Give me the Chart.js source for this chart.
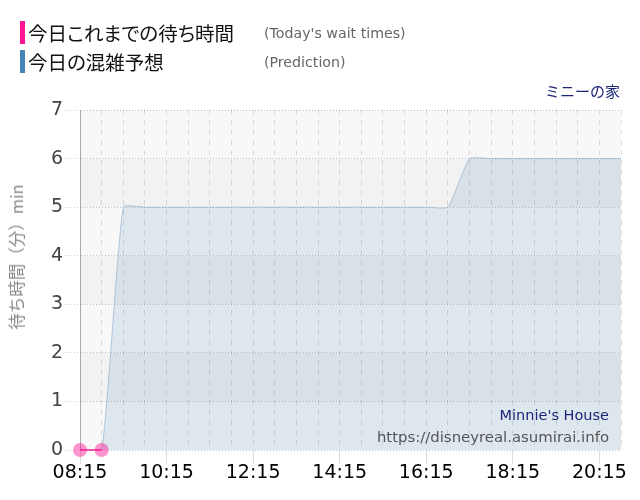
<!DOCTYPE html>
<html>
<head>
<meta charset="utf-8">
<script src="https://cdn.jsdelivr.net/npm/chart.js@4/dist/chart.umd.min.js"></script>
<style>
  html, body { margin: 0; padding: 0; background: #fff; }
  #wrap { position: relative; width: 640px; height: 500px; overflow: hidden; }
  #wrap canvas { position: absolute; left: 0; top: 0; }
  .lg { position: absolute; left: 20px; height: 24px; white-space: nowrap; }
  .lg .bar { position: absolute; left: 0; top: 0; width: 5px; height: 23px; }
  .lg .jp { position: absolute; left: 8px; top: 0; font: 19.5px/24px "Noto Sans CJK JP"; color: #111; font-feature-settings: "palt"; }
  .lg .en { position: absolute; left: 244px; top: 0; font: 14.2px/24px "DejaVu Sans"; color: #666; }
  #place { position: absolute; right: 20px; top: 80px; font: 15px "Noto Sans CJK JP"; color: #1d2577; }
  #ytitle { position: absolute; left: 16px; top: 257px; transform: translate(-50%, -50%) rotate(-90deg);
            font: 16.5px "Noto Sans CJK JP"; color: #888; white-space: nowrap; }
  #mark { position: absolute; right: 31px; top: 404px; text-align: right; font: 14.5px/22px "DejaVu Sans"; }
  #mark .n { color: #1d2577; }
  #mark .u { color: #555; font-size: 14.9px; }
</style>
</head>
<body>
<div id="wrap">
  <canvas id="waitChart" width="640" height="500"></canvas>
  <div class="lg" style="top:21px"><span class="bar" style="background:#ff1493"></span><span class="jp">今日これまでの待ち時間</span><span class="en">(Today's wait times)</span></div>
  <div class="lg" style="top:50px"><span class="bar" style="background:#4682b4"></span><span class="jp">今日の混雑予想</span><span class="en">(Prediction)</span></div>
  <div id="place">ミニーの家</div>
  <div id="ytitle">待ち時間（分）min</div>
  <div id="mark"><div class="n">Minnie's House</div><div class="u">https://disneyreal.asumirai.info</div></div>
</div>
<script>
"use strict";

var times = ['08:15', '08:45', '09:15', '09:45', '10:15', '10:45', '11:15', '11:45',
    '12:15', '12:45', '13:15', '13:45', '14:15', '14:45', '15:15', '15:45',
    '16:15', '16:45', '17:15', '17:45', '18:15', '18:45', '19:15', '19:45',
    '20:15', '20:45'];
var actualWait = [0, 0];
var predicted = [0, 0, 5, 5, 5, 5, 5, 5, 5, 5, 5, 5, 5, 5, 5, 5, 5, 5,
    6, 6, 6, 6, 6, 6, 6, 6];
var yTicks = [0, 1, 2, 3, 4, 5, 6, 7];

// alternating grey bands behind the plot
var bands = {
    id: 'bands',
    beforeDraw: function (chart) {
        var ctx = chart.ctx, area = chart.chartArea, y = chart.scales.y;
        ctx.save();
        for (var i = 0; i < yTicks.length - 1; i++) {
            var top = y.getPixelForValue(yTicks[i + 1]);
            var bottom = y.getPixelForValue(yTicks[i]);
            ctx.fillStyle = i % 2 === 0 ? '#f8f8f8' : '#f2f2f2';
            ctx.fillRect(area.left, top, area.right - area.left, bottom - top);
        }
        ctx.restore();
    }
};

var ctx = document.getElementById('waitChart').getContext('2d');
var waitChart = new Chart(ctx, {
    type: 'line',
    data: {
        labels: times,
        datasets: [{
            label: '今日これまでの待ち時間',
            data: actualWait,
            borderColor: 'rgba(230,40,150,0.75)',
            borderWidth: 2,
            backgroundColor: 'rgba(255,20,147,0.45)',
            pointBackgroundColor: 'rgba(255,20,147,0.45)',
            pointBorderWidth: 0,
            pointRadius: 7,
            fill: false,
            clip: false,
            order: 0
        }, {
            label: '今日の混雑予想',
            data: predicted,
            borderColor: 'rgba(70,130,180,0.35)',
            borderWidth: 1,
            backgroundColor: 'rgba(70,130,180,0.14)',
            pointRadius: 0,
            tension: 0.15,
            fill: 'origin',
            order: 1
        }]
    },
    plugins: [bands],
    options: {
        responsive: false,
        animation: false,
        layout: { padding: { top: 110, right: 19, left: 0, bottom: 0 } },
        plugins: {
            legend: { display: false },
            tooltip: { enabled: false }
        },
        scales: {
            x: {
                offset: false,
                afterFit: function (s) { s.height = 50; },
                border: { display: false, dash: [5, 5] },
                grid: {
                    color: 'rgba(0,0,0,0.12)',
                    tickLength: 14,
                    tickBorderDash: [],
                    tickColor: function (c) { return c.index % 4 === 0 ? '#dcdcdc' : 'rgba(0,0,0,0)'; }
                },
                ticks: {
                    autoSkip: false,
                    maxRotation: 0,
                    padding: -2,
                    color: '#000',
                    font: { family: 'DejaVu Sans', size: 19 },
                    callback: function (v, i) { return i % 4 === 0 ? times[i] : ''; }
                }
            },
            y: {
                min: 0,
                max: 7,
                afterFit: function (s) { s.width = 80; },
                border: { display: true, color: '#aaa', width: 1, dash: [1, 2] },
                grid: {
                    color: 'rgba(0,0,0,0.22)',
                    tickLength: 15,
                    tickBorderDash: [1, 2],
                    tickColor: 'rgba(0,0,0,0.18)'
                },
                ticks: {
                    stepSize: 1,
                    padding: 2,
                    color: '#444',
                    font: { family: 'DejaVu Sans', size: 19 }
                }
            }
        }
    }
});
</script>
</body>
</html>
